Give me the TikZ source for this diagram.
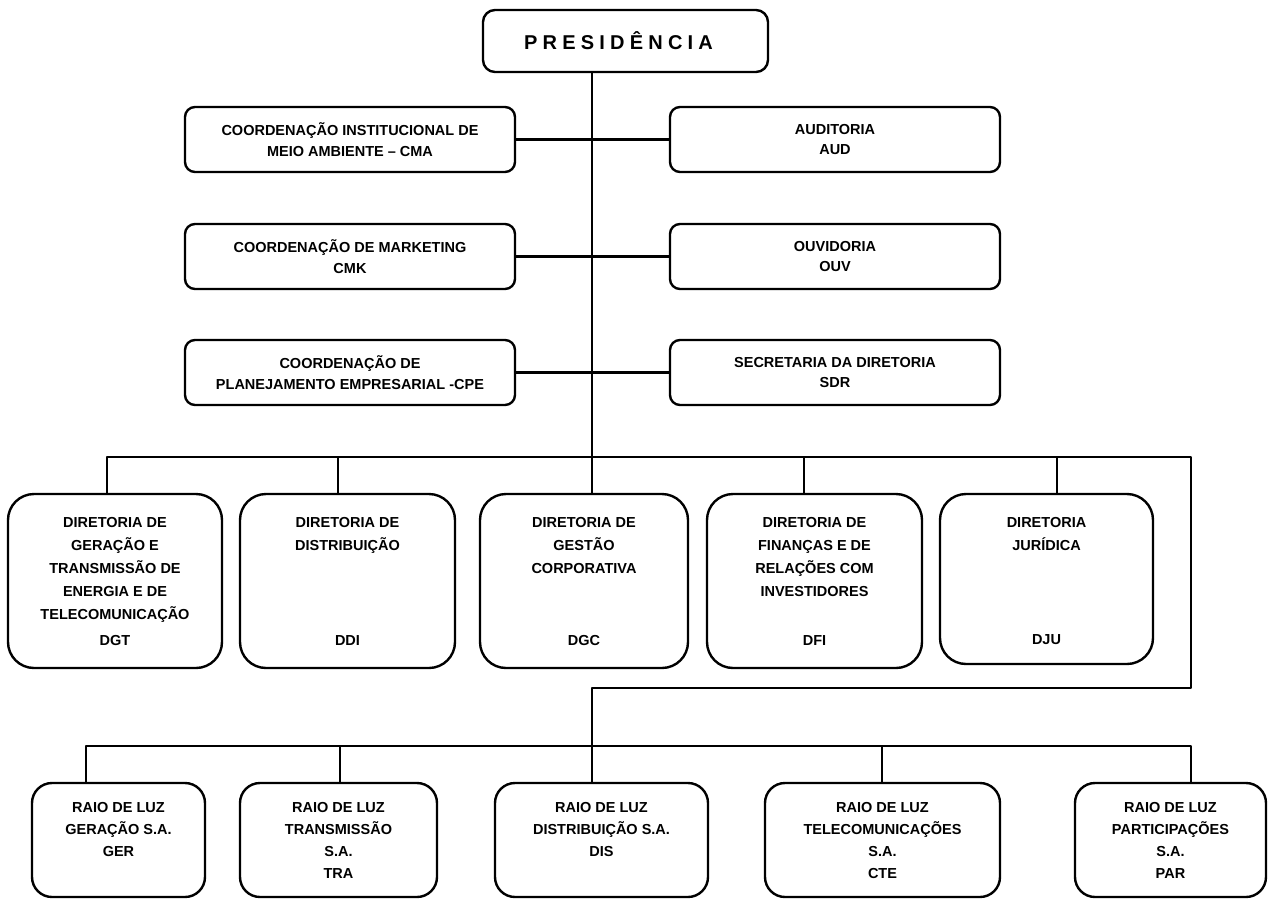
\documentclass[tikz,border=0pt]{standalone}
\usepackage{fontspec}
\setmainfont{Liberation Sans}
\begin{document}
\begin{tikzpicture}[x=1pt,y=-1pt,
  line width=2.4pt, line join=round,
  txt/.style={font=\bfseries\fontsize{14.5}{21}\selectfont, align=center, inner sep=0pt},
  staff/.style={draw, rounded corners=10pt, minimum width=330pt, minimum height=65pt, txt, font=\bfseries\fontsize{14.5}{20.5}\selectfont},
  dirbox/.style={draw, rounded corners=26pt, minimum height=174pt, inner sep=0pt},
  dirtxt/.style={txt, anchor=north, font=\bfseries\fontsize{14.5}{23}\selectfont},
  subbox/.style={draw, rounded corners=20pt, minimum height=114pt, inner sep=0pt},
  subtxt/.style={txt, anchor=north, font=\bfseries\fontsize{14.5}{22}\selectfont}
]
\useasboundingbox (0,0) rectangle (1271,899);

% top of the chart
\node[draw, rounded corners=12pt, minimum width=285pt, minimum height=62pt,
      font=\bfseries\fontsize{20}{24}\selectfont\addfontfeatures{LetterSpace=26}]
      (pres) at (625.5,41) {PRESIDÊNCIA\hspace*{14pt}};

% staff units
\node[staff] (cma) at (350,139.5) {COORDENAÇÃO INSTITUCIONAL DE\\MEIO AMBIENTE – CMA};
\node[staff] (cmk) at (350,256.5) {COORDENAÇÃO DE MARKETING\\CMK};
\node[staff] (cpe) at (350,372.5) {COORDENAÇÃO DE\\PLANEJAMENTO EMPRESARIAL -CPE};
\node[staff] (aud) at (835,139.5) {AUDITORIA\\AUD};
\node[staff] (ouv) at (835,256.5) {OUVIDORIA\\OUV};
\node[staff] (sdr) at (835,372.5) {SECRETARIA DA DIRETORIA\\SDR};

% directorates
\node[dirbox, minimum width=214pt] (dgt) at (115,581) {};
\node[dirbox, minimum width=215pt] (ddi) at (347.5,581) {};
\node[dirbox, minimum width=208pt] (dgc) at (584,581) {};
\node[dirbox, minimum width=215pt] (dfi) at (814.5,581) {};
\node[dirbox, minimum width=213pt, minimum height=170pt] (dju) at (1046.5,579) {};

\node[dirtxt] (dgtT) at ([yshift=-23pt]dgt.north) {DIRETORIA DE\\GERAÇÃO E\\TRANSMISSÃO DE\\ENERGIA E DE\\TELECOMUNICAÇÃO};
\node[dirtxt] (ddiT) at ([yshift=-23pt]ddi.north) {DIRETORIA DE\\DISTRIBUIÇÃO};
\node[dirtxt] (dgcT) at ([yshift=-23pt]dgc.north) {DIRETORIA DE\\GESTÃO\\CORPORATIVA};
\node[dirtxt] (dfiT) at ([yshift=-23pt]dfi.north) {DIRETORIA DE\\FINANÇAS E DE\\RELAÇÕES COM\\INVESTIDORES};
\node[dirtxt] (djuT) at ([yshift=-23pt]dju.north) {DIRETORIA\\JURÍDICA};

\node[txt] (dgtC) at ([yshift=29pt]dgt.south) {DGT};
\node[txt] (ddiC) at ([yshift=29pt]ddi.south) {DDI};
\node[txt] (dgcC) at ([yshift=29pt]dgc.south) {DGC};
\node[txt] (dfiC) at ([yshift=29pt]dfi.south) {DFI};
\node[txt] (djuC) at ([yshift=26pt]dju.south) {DJU};

% subsidiaries
\node[subbox, minimum width=173pt] (ger) at (118.5,840) {};
\node[subbox, minimum width=197pt] (tra) at (338.5,840) {};
\node[subbox, minimum width=213pt] (dis) at (601.5,840) {};
\node[subbox, minimum width=235pt] (cte) at (882.5,840) {};
\node[subbox, minimum width=191pt] (par) at (1170.5,840) {};

\node[subtxt] (gerT) at ([yshift=-19pt]ger.north) {RAIO DE LUZ\\GERAÇÃO S.A.\\GER};
\node[subtxt] (traT) at ([yshift=-19pt]tra.north) {RAIO DE LUZ\\TRANSMISSÃO\\S.A.\\TRA};
\node[subtxt] (disT) at ([yshift=-19pt]dis.north) {RAIO DE LUZ\\DISTRIBUIÇÃO S.A.\\DIS};
\node[subtxt] (cteT) at ([yshift=-19pt]cte.north) {RAIO DE LUZ\\TELECOMUNICAÇÕES\\S.A.\\CTE};
\node[subtxt] (parT) at ([yshift=-19pt]par.north) {RAIO DE LUZ\\PARTICIPAÇÕES\\S.A.\\PAR};

% junction points of the connector lines
\coordinate (spine) at (592,72);
\coordinate (busL) at (107,457);
\coordinate (busR) at (1191,457);
\coordinate (dDDI) at (338,457);
\coordinate (dDFI) at (804,457);
\coordinate (dDJU) at (1057,457);
\coordinate (turnR) at (1191,688);
\coordinate (turnC) at (592,688);
\coordinate (bus2L) at (86,746);
\coordinate (bus2R) at (1191,746);
\coordinate (dTRA) at (340,746);
\coordinate (dCTE) at (882,746);

% main spine
\draw (spine |- pres.south) -- (spine |- dgc.north);

% staff links
\foreach \n in {cma,cmk,cpe} \draw (\n.east) -- (\n.east -| spine);
\foreach \n in {aud,ouv,sdr} \draw (\n.west) -- (\n.west -| spine);

% directorate bus
\draw (busL |- dgt.north) -- (busL) -- (busR) -- (turnR) -- (turnC) -- (turnC |- dis.north);
\draw (dDDI) -- (dDDI |- ddi.north);
\draw (dDFI) -- (dDFI |- dfi.north);
\draw (dDJU) -- (dDJU |- dju.north);

% subsidiary bus
\draw (bus2L |- ger.north) -- (bus2L) -- (bus2R) -- (bus2R |- par.north);
\draw (dTRA) -- (dTRA |- tra.north);
\draw (dCTE) -- (dCTE |- cte.north);
\end{tikzpicture}
\end{document}
